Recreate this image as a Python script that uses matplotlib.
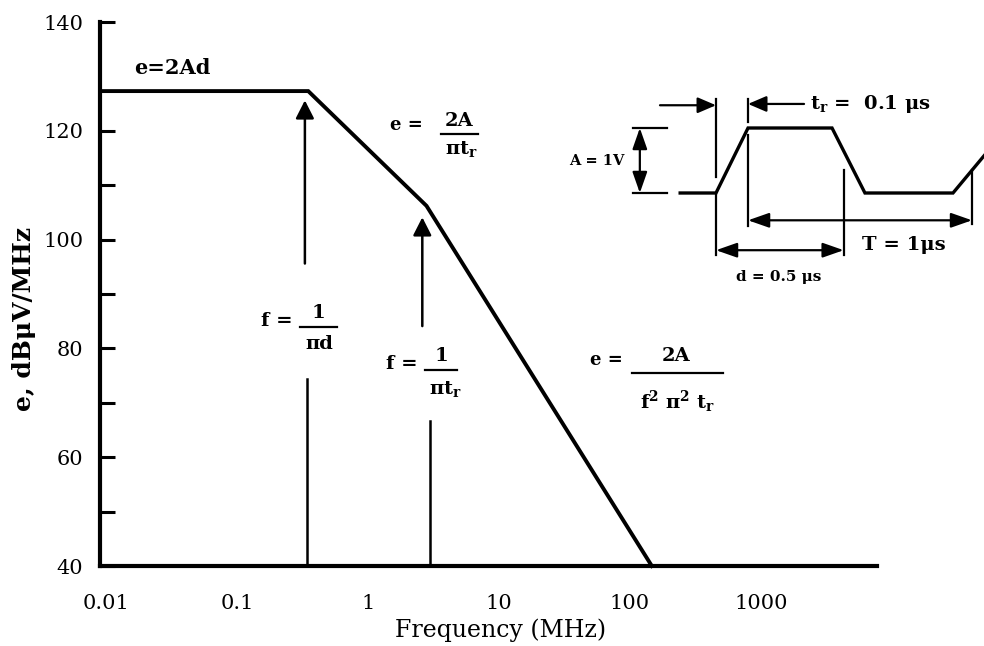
import numpy as np
import matplotlib
matplotlib.use('Agg')
import matplotlib.pyplot as plt
from matplotlib.lines import Line2D
from matplotlib.ticker import FixedLocator, NullFormatter

plt.rcParams['font.family'] = 'DejaVu Serif'
plt.rcParams['mathtext.fontset'] = 'dejavuserif'
plt.rcParams['mathtext.default'] = 'regular'

# spectrum envelope (MHz, dBuV/MHz)
env_freq = [0.009, 0.35, 2.8, 147]
env_level = [127.3, 127.3, 106.2, 40]

# corner-frequency arrows: upper part (with head) and lower part
arrow_freq_up = [0.33, 2.6]
arrow_tip = [125.6, 104.1]
arrow_up_bottom = [95.6, 84.1]
arrow_freq_low = [0.34, 3.0]
arrow_low_top = [74.4, 66.6]

x_labels = ['0.01', '0.1', '1', '10', '100', '1000']
x_label_pos = [0.01, 0.1, 1, 10, 100, 1000]
x_marks = [0.1, 100, 1000]
y_major = [40, 60, 80, 100, 120, 140]
y_minor = [50, 70, 90, 110]

# inset trapezoid pulse (time in us, amplitude in V)
pulse_t = [-0.16, 0.0, 0.143, 0.518, 0.665, 1.058, 1.30]
pulse_v = [0.0, 0.0, 1.0, 1.0, 0.0, 0.0, 1.0]

W, H = 984, 646
fig = plt.figure(figsize=(W / 100, H / 100), dpi=100)
ax = fig.add_axes([100 / W, 1 - 566 / H, 777 / W, 544 / H])

ax.plot(env_freq, env_level, color='k', lw=2.8, solid_joinstyle='miter', clip_on=False)

for fu, tip, bot, fl, top in zip(arrow_freq_up, arrow_tip, arrow_up_bottom,
                                 arrow_freq_low, arrow_low_top):
    ax.annotate('', xy=(fu, tip), xytext=(fu, bot),
                arrowprops=dict(arrowstyle='-|>,head_length=0.55,head_width=0.28',
                                mutation_scale=20, color='k', lw=1.8,
                                shrinkA=0, shrinkB=0))
    ax.plot([fl, fl], [40, top], color='k', lw=1.8)

ax.set_xscale('log')
ax.set_xlim(0.009, 7700)
ax.set_ylim(40, 140)

for s in ['top', 'right']:
    ax.spines[s].set_visible(False)
for s in ['left', 'bottom']:
    ax.spines[s].set_linewidth(3)

ax.xaxis.set_major_locator(FixedLocator(x_label_pos))
ax.set_xticklabels(x_labels)
ax.xaxis.set_minor_locator(FixedLocator(x_marks))
ax.xaxis.set_minor_formatter(NullFormatter())
ax.tick_params(axis='x', which='major', length=0, pad=20, labelsize=15)
ax.tick_params(axis='x', which='minor', direction='in', length=9, width=2)

ax.set_yticks(y_major)
ax.yaxis.set_minor_locator(FixedLocator(y_minor))
ax.tick_params(axis='y', which='both', direction='in', length=11, width=2.2,
               pad=12, labelsize=15)

ax.set_xlabel('Frequency (MHz)', fontsize=17)
ax.xaxis.set_label_coords(0.515, -0.097)
ax.set_ylabel('e, dBμV/MHz', fontsize=18, fontweight='bold')
ax.yaxis.set_label_coords(-0.083, 0.455)


def txt(x, y, s, size=14, ha='left', **kw):
    fig.text(x / W, 1 - y / H, s, fontsize=size, ha=ha, va='center',
             fontweight='bold', **kw)


def bar(x0, x1, y, lw=1.6):
    fig.add_artist(Line2D([x0 / W, x1 / W], [1 - y / H, 1 - y / H],
                          color='k', lw=lw))


txt(134, 68, 'e=2Ad', size=15)

txt(390, 125, 'e =', size=13)
txt(459, 121, '2A', size=14, ha='center')
bar(441, 478, 134)
txt(461, 149, r'πt$_r$', size=14, ha='center')

txt(261, 321, 'f =', size=14)
txt(318, 313, '1', size=14, ha='center')
bar(300, 337, 327)
txt(319, 344, 'πd', size=14, ha='center')

txt(386, 364, 'f =', size=14)
txt(441, 356, '1', size=14, ha='center')
bar(425, 457, 370)
txt(445, 389, r'πt$_r$', size=14, ha='center')

txt(590, 360, 'e =', size=13)
txt(676, 356, '2A', size=14, ha='center')
bar(632, 723, 373)
txt(678, 402, r'f$^2$ π$^2$ t$_r$', size=14, ha='center')

# inset pulse sketch
px_per_us, x0_px = 224.0, 716.0
px_per_v, y0_px = 65.0, 193.0
left_px, right_px, top_px, bot_px = 560, 984, 80, 300
ins = fig.add_axes([left_px / W, 1 - bot_px / H, (right_px - left_px) / W,
                    (bot_px - top_px) / H])
ins.set_xlim((left_px - x0_px) / px_per_us, (right_px - x0_px) / px_per_us)
ins.set_ylim((y0_px - bot_px) / px_per_v, (y0_px - top_px) / px_per_v)
ins.axis('off')
ins.patch.set_alpha(0)

ins.plot(pulse_t, pulse_v, color='k', lw=2.4, solid_joinstyle='miter')

tr, d, T = pulse_t[2], 0.57, 1.0
k = dict(color='k', lw=1.6)
# extension lines
ins.plot([0, 0], [0.25, 1.45], **k)
ins.plot([0, 0], [0, -0.95], **k)
ins.plot([tr, tr], [1.1, 1.45], **k)
ins.plot([tr, tr], [0.9, -0.5], **k)
ins.plot([d, d], [0.35, -0.95], **k)
ins.plot([tr + T, tr + T], [0.35, -0.47], **k)
# A bars
ins.plot([-0.37, -0.22], [1.0, 1.0], **k)
ins.plot([-0.37, -0.22], [0.0, 0.0], **k)

ap = dict(arrowstyle='-|>,head_length=0.7,head_width=0.3', mutation_scale=16,
          color='k', lw=1.6, shrinkA=0, shrinkB=0)
ap2 = dict(arrowstyle='<|-|>,head_length=0.8,head_width=0.28', mutation_scale=16,
           color='k', lw=1.6, shrinkA=0, shrinkB=0)
ins.annotate('', xy=(0, 1.35), xytext=(-0.25, 1.35), arrowprops=ap)
ins.annotate('', xy=(tr, 1.37), xytext=(tr + 0.25, 1.37), arrowprops=ap)
ins.annotate('', xy=(-0.34, 1.0), xytext=(-0.34, 0.0), arrowprops=ap2)
ins.annotate('', xy=(d, -0.88), xytext=(0, -0.88), arrowprops=ap2)
ins.annotate('', xy=(tr + T, -0.42), xytext=(tr, -0.42), arrowprops=ap2)

ins.text(0.42, 1.37, r't$_r$ =  0.1 μs', fontsize=14, fontweight='bold', va='center')
ins.text(-0.41, 0.5, 'A = 1V', fontsize=10.5, fontweight='bold', va='center', ha='right')
ins.text(0.28, -1.29, 'd = 0.5 μs', fontsize=11, fontweight='bold', va='center', ha='center')
ins.text(0.84, -0.80, 'T = 1μs', fontsize=14, fontweight='bold', va='center', ha='center')

fig.savefig('out.png', dpi=100)
